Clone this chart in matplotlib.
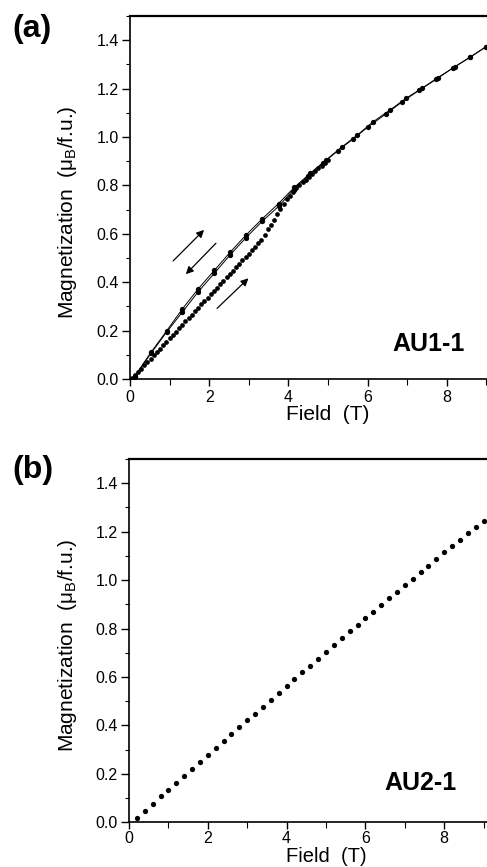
import matplotlib
matplotlib.use("Agg")
import matplotlib.pyplot as plt
from matplotlib.ticker import MultipleLocator

plt.rcParams['font.family'] = ['Liberation Sans', 'DejaVu Sans']
plt.rcParams['mathtext.fontset'] = 'custom'
plt.rcParams['mathtext.rm'] = 'Liberation Sans'
plt.rcParams['mathtext.it'] = 'Liberation Sans:italic'
plt.rcParams['mathtext.bf'] = 'Liberation Sans:bold'

# ---------------- Panel (a): AU1-1 ----------------
# virgin (first up-sweep), dense dots
virgin_field = [0.04, 0.12, 0.20, 0.28, 0.36, 0.44, 0.52, 0.60, 0.68, 0.76,
                0.84, 0.92, 1.00, 1.08, 1.16, 1.24, 1.32, 1.40, 1.48, 1.56,
                1.64, 1.72, 1.80, 1.88, 1.96, 2.04, 2.12, 2.20, 2.28, 2.36,
                2.44, 2.52, 2.60, 2.68, 2.76, 2.84, 2.92, 3.00, 3.08, 3.16,
                3.24, 3.32, 3.40, 3.48, 3.56, 3.64, 3.72, 3.80, 3.88, 3.96,
                4.04, 4.12, 4.20, 4.28, 4.36, 4.44, 4.52, 4.60, 4.68, 4.76,
                4.84, 4.92, 5.00]
virgin_mag = [0.004, 0.015, 0.028, 0.042, 0.056, 0.070, 0.084, 0.098, 0.112, 0.126,
              0.140, 0.154, 0.168, 0.182, 0.196, 0.210, 0.224, 0.238, 0.252, 0.266,
              0.280, 0.294, 0.308, 0.322, 0.336, 0.350, 0.364, 0.378, 0.392, 0.406,
              0.420, 0.434, 0.448, 0.462, 0.476, 0.490, 0.504, 0.518, 0.532, 0.546,
              0.560, 0.576, 0.597, 0.618, 0.638, 0.659, 0.680, 0.701, 0.722, 0.742,
              0.758, 0.774, 0.788, 0.800, 0.812, 0.824, 0.836, 0.848, 0.859, 0.870,
              0.881, 0.892, 0.903]

# down-sweep (upper line with markers)
down_field = [8.99, 8.59, 8.21, 7.77, 7.37, 6.97, 6.57, 6.14, 5.74, 5.36, 4.95, 4.55,
              4.15, 3.75, 3.34, 2.93, 2.53, 2.13, 1.72, 1.32, 0.93, 0.53, 0.12]
down_mag = [1.373, 1.331, 1.291, 1.245, 1.201, 1.160, 1.112, 1.063, 1.008, 0.960, 0.905, 0.850,
            0.792, 0.725, 0.662, 0.595, 0.524, 0.449, 0.372, 0.289, 0.200, 0.110, 0.012]

# second up-sweep (lower line with markers)
up_field = [0.12, 0.53, 0.93, 1.32, 1.72, 2.13, 2.53, 2.93, 3.34, 3.75, 4.13, 4.50,
            4.88, 5.24, 5.62, 6.02, 6.46, 6.88, 7.31, 7.73, 8.16, 8.59, 8.99]
up_mag = [0.010, 0.106, 0.195, 0.276, 0.360, 0.437, 0.513, 0.584, 0.652, 0.713, 0.783, 0.840,
          0.893, 0.942, 0.990, 1.043, 1.095, 1.146, 1.194, 1.238, 1.286, 1.329, 1.373]

# ---------------- Panel (b): AU2-1 ----------------
b_field = [0.2, 0.4, 0.6, 0.8, 1.0, 1.2, 1.4, 1.6, 1.8, 2.0, 2.2, 2.4, 2.6, 2.8, 3.0,
           3.2, 3.4, 3.6, 3.8, 4.0, 4.2, 4.4, 4.6, 4.8, 5.0, 5.2, 5.4, 5.6, 5.8, 6.0,
           6.2, 6.4, 6.6, 6.8, 7.0, 7.2, 7.4, 7.6, 7.8, 8.0, 8.2, 8.4, 8.6, 8.8, 9.0]
b_mag = [0.019, 0.047, 0.077, 0.109, 0.134, 0.163, 0.192, 0.221, 0.248, 0.277, 0.306,
         0.335, 0.363, 0.392, 0.421, 0.448, 0.477, 0.505, 0.534, 0.563, 0.590, 0.619,
         0.647, 0.675, 0.702, 0.731, 0.759, 0.788, 0.816, 0.842, 0.870, 0.897, 0.925,
         0.951, 0.978, 1.005, 1.032, 1.059, 1.086, 1.114, 1.140, 1.166, 1.193, 1.219, 1.246]

x_ticks = [0, 2, 4, 6, 8]
y_ticks = [0.0, 0.2, 0.4, 0.6, 0.8, 1.0, 1.2, 1.4]

W, H = 487, 867
fig = plt.figure(figsize=(W / 100, H / 100), dpi=100)

ax_a = fig.add_axes([130 / W, (H - 379) / H, 396 / W, 363 / H])
ax_b = fig.add_axes([129 / W, (H - 822.3) / H, 394 / W, 363.3 / H])

ylabel = "Magnetization  (μ$_\\mathrm{B}$/f.u.)"


def style(ax, label_y, xpad):
    ax.set_xlim(0, 10)
    ax.set_ylim(0, 1.5)
    ax.set_xticks(x_ticks)
    ax.set_yticks(y_ticks)
    ax.set_yticklabels([f"{v:.1f}" for v in y_ticks])
    ax.xaxis.set_minor_locator(MultipleLocator(1))
    ax.yaxis.set_minor_locator(MultipleLocator(0.1))
    ax.tick_params(axis='y', which='major', direction='out', length=6, width=1, labelsize=11.5, pad=2)
    ax.tick_params(axis='y', which='minor', direction='out', length=3, width=0.8)
    ax.tick_params(axis='x', which='major', direction='out', length=5, width=1, labelsize=11.5, pad=xpad)
    ax.tick_params(axis='x', which='minor', direction='out', length=4, width=0.8)
    ax.spines['right'].set_visible(False)
    ax.spines['top'].set_linewidth(1.6)
    ax.spines['left'].set_linewidth(1.2)
    ax.spines['bottom'].set_linewidth(1.2)
    ax.set_ylabel(ylabel, fontsize=15)
    ax.yaxis.set_label_coords(-0.128, label_y)


# panel a
ax_a.plot(virgin_field, virgin_mag, linestyle='none', marker='o', markersize=3.4,
          color='black', markeredgewidth=0)
ax_a.plot(down_field, down_mag, linestyle='-', linewidth=0.7, marker='o', markersize=3.8,
          color='black', markeredgewidth=0)
ax_a.plot(up_field, up_mag, linestyle='-', linewidth=0.7, marker='o', markersize=3.8,
          color='black', markeredgewidth=0)
style(ax_a, 0.46, 3)
ax_a.set_xlabel("Field  (T)", fontsize=15, labelpad=0)

arrow_kw = dict(arrowstyle='-|>', color='black', lw=0.9, mutation_scale=11,
                shrinkA=0, shrinkB=0)
ax_a.annotate("", xy=(1.87, 0.616), xytext=(1.09, 0.488), arrowprops=arrow_kw)
ax_a.annotate("", xy=(1.41, 0.433), xytext=(2.17, 0.561), arrowprops=arrow_kw)
ax_a.annotate("", xy=(2.99, 0.416), xytext=(2.20, 0.292), arrowprops=arrow_kw)

ax_a.text(7.53, 0.145, "AU1-1", fontsize=18, fontweight='bold', ha='center', va='center')

# panel b
ax_b.plot(b_field, b_mag, linestyle='none', marker='o', markersize=3.8,
          color='black', markeredgewidth=0)
style(ax_b, 0.487, 1.5)
ax_b.set_xlabel("Field  (T)", fontsize=14.5, labelpad=0.5)
ax_b.text(7.41, 0.161, "AU2-1", fontsize=18, fontweight='bold', ha='center', va='center')

fig.text(12 / W, 1 - 29 / H, "(a)", fontsize=23, fontweight='bold', ha='left', va='center')
fig.text(12 / W, 1 - 470 / H, "(b)", fontsize=23, fontweight='bold', ha='left', va='center')

fig.savefig("out.png", dpi=100)
